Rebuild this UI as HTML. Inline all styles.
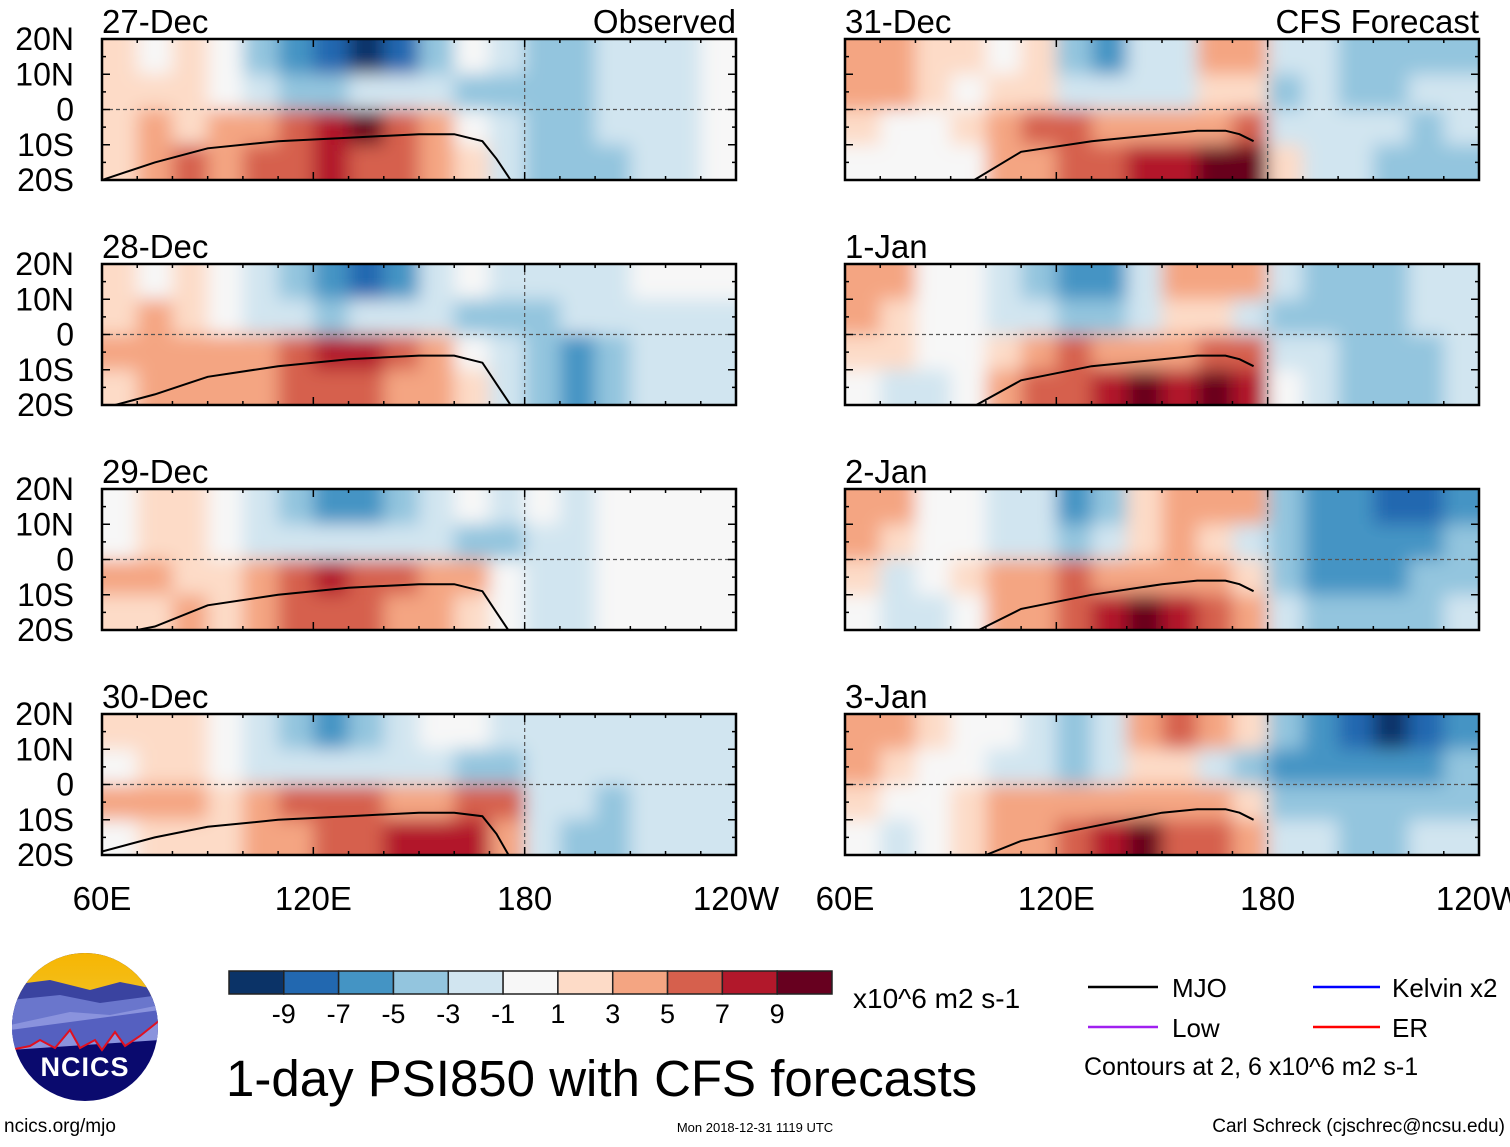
<!DOCTYPE html>
<html><head><meta charset="utf-8"><style>
body{margin:0;background:#fff;}
svg text{font-family:"Liberation Sans",sans-serif;}
</style></head><body>
<svg id="fig" width="1510" height="1142" viewBox="0 0 1510 1142" xmlns="http://www.w3.org/2000/svg">
<defs>
<filter id="blur" filterUnits="userSpaceOnUse" x="0" y="0" width="1510" height="1142"><feGaussianBlur stdDeviation="9"/></filter>
<linearGradient id="sky" x1="0" y1="0" x2="0" y2="1"><stop offset="0" stop-color="#f7b500"/><stop offset="1" stop-color="#f2c020"/></linearGradient>
<clipPath id="logoclip"><ellipse cx="85" cy="1027" rx="73" ry="74"/></clipPath>
</defs>
<g id="panels"></g>
<g id="cbar"></g>
<text x="853" y="1008" font-size="28">x10^6 m2 s-1</text>
<text x="226" y="1096" font-size="51">1-day PSI850 with CFS forecasts</text>
<g>
<line x1="1088" y1="987" x2="1158" y2="987" stroke="#000" stroke-width="2.5"/>
<text x="1172" y="997" font-size="26">MJO</text>
<line x1="1313" y1="987" x2="1380" y2="987" stroke="#0000ff" stroke-width="2.5"/>
<text x="1392" y="997" font-size="26">Kelvin x2</text>
<line x1="1088" y1="1027" x2="1158" y2="1027" stroke="#a020f0" stroke-width="2.5"/>
<text x="1172" y="1037" font-size="26">Low</text>
<line x1="1313" y1="1027" x2="1380" y2="1027" stroke="#ff0000" stroke-width="2.5"/>
<text x="1392" y="1037" font-size="26">ER</text>
<text x="1084" y="1075" font-size="25">Contours at 2, 6 x10^6 m2 s-1</text>
</g>
<g clip-path="url(#logoclip)">
<rect x="10" y="950" width="150" height="160" fill="#0a0a6e"/>
<rect x="10" y="950" width="150" height="50" fill="url(#sky)"/>
<path d="M10 985 L50 980 L90 990 L120 982 L160 990 L160 1020 L10 1030Z" fill="#3a43a0"/>
<path d="M10 1000 L60 995 L100 1003 L160 995 L160 1030 L10 1040Z" fill="#6a76cc"/>
<path d="M10 1025 L70 1012 L110 1015 L160 1005 L160 1040 L10 1050Z" fill="#8a93dd"/>
<path d="M10 1050 L30 1046 L40 1040 L55 1048 L70 1030 L80 1048 L95 1040 L102 1050 L115 1032 L125 1046 L140 1036 L160 1020 L160 1010 L10 1030Z" fill="#5560c0"/>
<path d="M10 1050 L30 1046 L40 1040 L55 1048 L70 1030 L80 1048 L95 1040 L102 1050 L115 1032 L125 1046 L140 1036 L160 1020" fill="none" stroke="#e01020" stroke-width="2"/>
<text x="85" y="1076" font-size="27" font-weight="bold" fill="#fff" text-anchor="middle" letter-spacing="1">NCICS</text>
</g>
<text x="4" y="1132" font-size="19">ncics.org/mjo</text>
<text x="755" y="1132" font-size="13" text-anchor="middle">Mon 2018-12-31 1119 UTC</text>
<text x="1505" y="1132" font-size="19" text-anchor="end">Carl Schreck (cjschrec@ncsu.edu)</text>
</svg>
<script>
const panelTitles=["27-Dec","28-Dec","29-Dec","30-Dec","31-Dec","1-Jan","2-Jan","3-Jan"];
const latLabels=["20N","10N","0","10S","20S"];
const lonLabels=["60E","120E","180","120W"];
const levelColors=["#0b3367","#2268b0","#4494c4","#93c5de","#d1e5f0","#f7f7f7","#fddbc7","#f4a582","#d6604d","#b2182b","#67001f"];
const levelBounds=[-9,-7,-5,-3,-1,1,3,5,7,9];
const p1=[[1,0,2,0,-4,-7,-8,-10,-8,-4,-1,-3,-5,-5,-3,-2,-2,-1],[1,2,1,-1,-3,-4,-4,-3,-2,-2,-4,-5,-5,-4,-3,-3,-2,-1],[2,3,2,3,4,6,8,9,6,4,-1,-3,-4,-4,-3,-3,-2,-1],[2,4,5,4,5,6,7,6,5,4,1,-3,-4,-5,-4,-3,-2,-1]];
const p2=[[1,0,2,0,-3,-5,-7,-9,-6,-3,-1,-2,-2,-2,-2,-1,-1,-1],[2,3,1,0,-2,-3,-4,-3,-2,-3,-4,-5,-4,-3,-3,-2,-2,-2],[3,4,3,3,4,6,7,8,5,3,-1,-3,-4,-6,-4,-3,-3,-3],[2,3,4,3,4,5,6,6,4,3,1,-3,-5,-6,-4,-3,-3,-3]];
const p3=[[0,2,2,0,-3,-5,-6,-7,-4,-2,-1,-2,0,-2,-1,0,0,0],[0,2,1,0,-2,-3,-3,-3,-2,-3,-4,-5,-3,-2,0,0,0,0],[3,3,2,2,3,5,7,6,5,4,3,-1,-2,-2,0,0,0,0],[2,2,3,2,4,5,5,6,4,3,2,0,-3,-2,0,0,0,0]];
const p4=[[2,2,2,0,-2,-4,-6,-4,-2,-1,0,-2,-3,-2,-2,-2,-2,-2],[0,2,2,0,-2,-3,-3,-2,-2,-3,-4,-5,-3,-2,-2,-2,-3,-2],[3,3,3,2,3,5,6,5,4,4,5,6,-2,-3,-4,-3,-3,-2],[0,2,2,2,3,4,5,6,7,7,7,4,-3,-4,-4,-3,-2,-2]];
const p5=[[4,4,2,1,0,2,-4,-6,-3,-2,3,3,-2,-3,-4,-4,-4,-4],[3,3,2,0,2,2,-3,-3,-2,-2,2,2,-4,-3,-4,-4,-3,-3],[2,0,0,2,3,5,6,4,3,3,4,6,-2,-3,-3,-3,-4,-3],[0,0,0,0,3,4,5,6,8,7,9,10,2,-3,-3,-4,-4,-4]];
const p6=[[4,3,0,0,-2,-4,-7,-6,-2,3,4,3,-3,-4,-4,-4,-3,-3],[3,2,0,0,-2,-3,-5,-4,-2,2,2,-2,-4,-4,-4,-4,-3,-3],[2,2,0,0,2,4,5,4,4,4,5,5,-3,-3,-4,-4,-4,-3],[0,-2,-2,0,3,5,6,8,10,7,9,7,0,-3,-4,-5,-4,-3]];
const p7=[[4,3,0,0,-2,-3,-6,-4,2,4,4,3,-4,-6,-7,-8,-9,-6],[3,2,0,0,-2,-3,-5,-3,2,3,2,-3,-5,-6,-7,-7,-6,-5],[2,-2,0,2,3,4,5,4,4,4,4,2,-4,-6,-6,-6,-5,-4],[0,-3,-2,0,3,4,6,7,9,7,6,4,-2,-4,-5,-5,-4,-3]];
const p8=[[4,4,2,0,0,-3,-5,-3,4,5,4,2,-4,-6,-8,-10,-9,-7],[3,2,0,0,-2,-3,-4,-3,2,2,-2,-4,-6,-6,-7,-7,-6,-5],[2,0,0,2,3,4,4,4,4,4,3,2,-4,-5,-5,-5,-4,-4],[0,-2,0,2,3,4,5,7,9,6,6,4,-2,-3,-4,-4,-3,-3]];
const panelData=[p1,p2,p3,p4,p5,p6,p7,p8];
const mjoLons=[60,75,90,110,130,150,160,168,172,176];
const mjoLats1=[-20,-15,-11,-9,-8,-7,-7,-9,-14,-20];
const mjoLats2=[-21,-17,-12,-9,-7,-6,-6,-8,-14,-20];
const mjoLats3=[-22,-19,-13,-10,-8,-7,-7,-9,-15,-21];
const mjoLats4=[-19,-15,-12,-10,-9,-8,-8,-9,-14,-21];
const mjoLats5=[-30,-28,-24,-12,-9,-7,-6,-6,-7,-9];
const mjoLats6=[-30,-28,-24,-13,-9,-7,-6,-6,-7,-9];
const mjoLats7=[-30,-28,-24,-14,-10,-7,-6,-6,-7,-9];
const mjoLats8=[-30,-28,-24,-16,-12,-8,-7,-7,-8,-10];
const mjoLatSets=[mjoLats1,mjoLats2,mjoLats3,mjoLats4,mjoLats5,mjoLats6,mjoLats7,mjoLats8];

const NS="http://www.w3.org/2000/svg";
const svg=document.getElementById('fig');
const panelsG=document.getElementById('panels');
function mk(tag,attrs,parent){const e=document.createElementNS(NS,tag);for(const k in attrs)e.setAttribute(k,attrs[k]);parent.appendChild(e);return e;}
function colorFor(v){let i=0;while(i<levelBounds.length&&v>=levelBounds[i])i++;return levelColors[i];}
const colX=[102,845], rowY=[39,264,489,714], PW=634, PH=141;
panelData.forEach((data,p)=>{
  const x0=colX[p<4?0:1], y0=rowY[p%4];
  const xs=lon=>x0+(lon-60)/180*PW;
  const ys=lat=>y0+(20-lat)/40*PH;
  const g=mk('g',{},panelsG);
  
  
  const cid='clip'+p;
  const cp=mk('clipPath',{id:cid},g);mk('rect',{x:x0,y:y0,width:PW,height:PH},cp);
  const clipG=mk('g',{'clip-path':'url(#'+cid+')'},g);
  const field=mk('g',{filter:'url(#blur)'},clipG);
  for(let r=-1;r<=4;r++)for(let c=-1;c<=18;c++){
    const rr=Math.max(0,Math.min(3,r)), cc=Math.max(0,Math.min(17,c));
    const v=data[rr][cc];
    const cell=mk('rect',{x:xs(60+c*10),y:ys(20-r*10),width:xs(70)-xs(60)+0.5,height:ys(10)-ys(20)+0.5,fill:colorFor(v)},field);
    
    
  }
  const lats=mjoLatSets[p];
  const d=mjoLons.map((lon,i)=>(i?'L':'M')+xs(lon).toFixed(1)+' '+ys(lats[i]).toFixed(1)).join(' ');
  const mjo=mk('path',{d:d,fill:'none',stroke:'#000','stroke-width':2},clipG);
  
  
  mk('line',{x1:x0,y1:ys(0),x2:x0+PW,y2:ys(0),stroke:'#555','stroke-width':1.2,'stroke-dasharray':'4,3'},g);
  mk('line',{x1:xs(180),y1:y0,x2:xs(180),y2:y0+PH,stroke:'#555','stroke-width':1.2,'stroke-dasharray':'4,3'},g);
  mk('rect',{x:x0,y:y0,width:PW,height:PH,fill:'none',stroke:'#000','stroke-width':2.5},g);
  for(let lon=60;lon<=240;lon+=10){const L=lon%60===0?8:4;
    mk('line',{x1:xs(lon),y1:y0,x2:xs(lon),y2:y0+L,stroke:'#000','stroke-width':1.5},g);
    mk('line',{x1:xs(lon),y1:y0+PH,x2:xs(lon),y2:y0+PH-L,stroke:'#000','stroke-width':1.5},g);}
  for(let lat=-20;lat<=20;lat+=5){const L=lat%10===0?8:4;
    mk('line',{x1:x0,y1:ys(lat),x2:x0+L,y2:ys(lat),stroke:'#000','stroke-width':1.5},g);
    mk('line',{x1:x0+PW,y1:ys(lat),x2:x0+PW-L,y2:ys(lat),stroke:'#000','stroke-width':1.5},g);}
  const t=mk('text',{x:x0,y:y0-6,'font-size':33},svg);t.textContent=panelTitles[p];
  
  
  if(p===0||p===4){const s=mk('text',{x:x0+PW,y:y0-6,'font-size':33,'text-anchor':'end'},svg);s.textContent=p===0?'Observed':'CFS Forecast';
    
    }
  if(p<4){latLabels.forEach((l,i)=>{const lt=mk('text',{x:74,y:ys(20-i*10)+11,'font-size':32,'text-anchor':'end'},svg);lt.textContent=l;
    
    });}
  if(p%4===3){lonLabels.forEach((l,i)=>{const lt=mk('text',{x:xs(60+i*60),y:910,'font-size':33,'text-anchor':'middle'},svg);lt.textContent=l;
    
    });}
});
const cb=document.getElementById('cbar');
const cbX=229,cbW=603/11;
levelColors.forEach((c,i)=>{const r=mk('rect',{x:cbX+i*cbW,y:971,width:cbW,height:23,fill:c,stroke:'#222','stroke-width':1.5},cb);
  
  });
levelBounds.forEach((b,i)=>{const t=mk('text',{x:cbX+(i+1)*cbW,y:1023,'font-size':27,'text-anchor':'middle'},cb);t.textContent=b;
  
  });
</script>
</body></html>
